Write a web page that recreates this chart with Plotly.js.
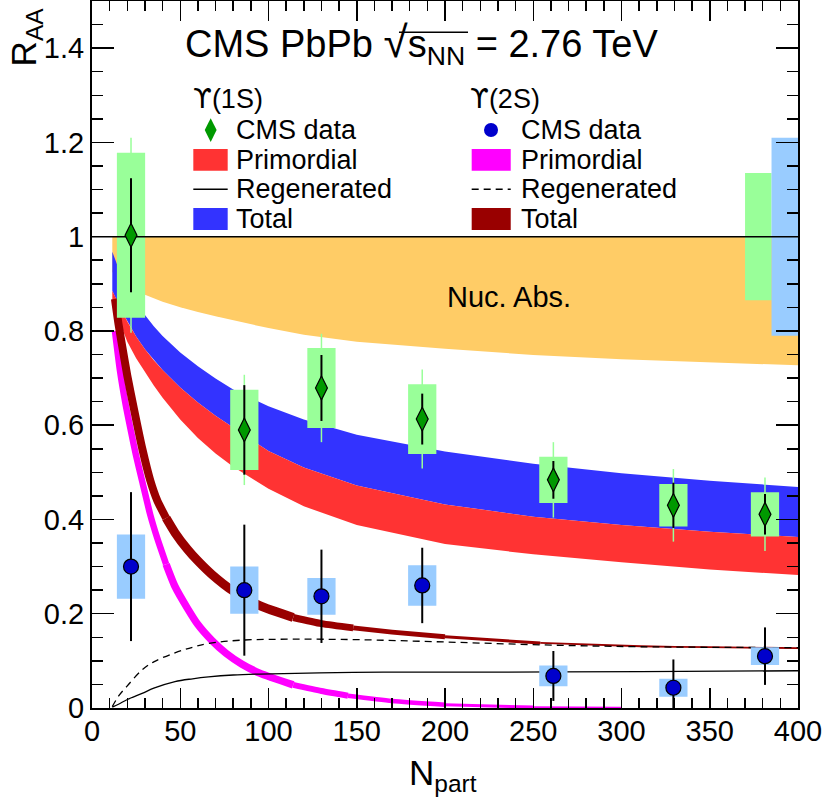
<!DOCTYPE html>
<html><head><meta charset="utf-8">
<script src="https://cdn.plot.ly/plotly-3.0.1.min.js"></script>
<style>html,body{margin:0;padding:0;background:#fff}</style>
</head><body><div id="chart" style="width:824px;height:803px"></div>
<script>
// ---------------- data ----------------
const npart  = [22.1, 86.3, 130.0, 187.1, 261.4, 329.4, 381.3];
// Upsilon(1S)
const raa1S  = [1.003, 0.590, 0.679, 0.613, 0.484, 0.430, 0.411];
const stat1S = [0.121, 0.095, 0.070, 0.054, 0.040, 0.048, 0.043];
const syst1S = [0.175, 0.085, 0.085, 0.074, 0.049, 0.045, 0.047];
const tot1S  = [0.207, 0.117, 0.115, 0.105, 0.080, 0.077, 0.078];
// Upsilon(2S)
const raa2S  = [0.300, 0.250, 0.237, 0.260, 0.068, 0.043, 0.110];
const stat2S = [0.158, 0.139, 0.099, 0.080, 0.053, 0.060, 0.061];
const syst2S = [0.068, 0.050, 0.039, 0.043, 0.022, 0.019, 0.019];
// global uncertainties (1S, 2S) at R_AA = 1
const globalX   = [377.5, 392.5];
const globalUnc = [0.135, 0.210];
const refValue  = 1;
const fullRange = [0, 400];

// model bands (x grid shared)
const bandX     = [11.5, 13, 15, 17.5, 20, 25, 30, 35, 40, 50, 60, 70, 80, 100, 120, 150, 200, 250, 300, 350, 400];
const nucLow    = [0.925, 0.920, 0.912, 0.904, 0.897, 0.886, 0.877, 0.869, 0.862, 0.850, 0.840, 0.831, 0.822, 0.806, 0.792, 0.777, 0.762, 0.749, 0.740, 0.733, 0.727];
const nucHigh   = [1, 1, 1, 1, 1, 1, 1, 1, 1, 1, 1, 1, 1, 1, 1, 1, 1, 1, 1, 1, 1];
const tot1SHigh = [0.968, 0.952, 0.933, 0.912, 0.893, 0.861, 0.834, 0.810, 0.789, 0.754, 0.725, 0.699, 0.676, 0.640, 0.612, 0.580, 0.544, 0.518, 0.498, 0.482, 0.469];
const tot1SLow  = [0.885, 0.873, 0.857, 0.838, 0.820, 0.788, 0.761, 0.738, 0.717, 0.680, 0.648, 0.620, 0.595, 0.545, 0.510, 0.472, 0.432, 0.406, 0.388, 0.374, 0.363];
const prim1SHigh= [0.885, 0.873, 0.857, 0.838, 0.820, 0.788, 0.761, 0.738, 0.717, 0.680, 0.648, 0.620, 0.595, 0.545, 0.510, 0.472, 0.432, 0.406, 0.388, 0.374, 0.363];
const prim1SLow = [0.860, 0.845, 0.825, 0.800, 0.777, 0.742, 0.712, 0.684, 0.658, 0.612, 0.573, 0.540, 0.512, 0.465, 0.428, 0.388, 0.348, 0.326, 0.309, 0.294, 0.282];
// regenerated 1S (solid)
const regen1SX = [11.5, 15, 20, 28.4, 35, 47, 57, 66, 80, 95, 148, 200, 311, 400];
const regen1SY = [0.002, 0.008, 0.018, 0.031, 0.042, 0.056, 0.062, 0.066, 0.070, 0.072, 0.0757, 0.076, 0.077, 0.079];
// regenerated 2S (dashed)
const regen2SX = [11.5, 15, 20, 28.4, 35, 47, 57, 66, 85, 114, 150, 200, 254, 311, 400];
const regen2SY = [0.003, 0.025, 0.047, 0.081, 0.098, 0.117, 0.129, 0.137, 0.144, 0.146, 0.145, 0.140, 0.134, 0.130, 0.128];
// total 2S (dark red) centre line
const tot2SX = [13, 15, 17, 20, 24, 28.5, 33, 37, 42, 47, 54, 60, 68, 80, 95, 114, 130, 148, 170, 200, 254, 311, 350, 400];
const tot2SY = [0.868, 0.815, 0.77, 0.705, 0.63, 0.55, 0.483, 0.44, 0.403, 0.372, 0.337, 0.312, 0.283, 0.248, 0.217, 0.192, 0.179, 0.170, 0.161, 0.151, 0.138, 0.131, 0.129, 0.127];
// primordial 2S (magenta) centre line
const prim2SX = [13, 15.8, 19, 22.3, 25, 28.5, 33, 37, 42, 47, 54, 60, 68, 76, 85, 95, 114, 130, 145, 170, 200, 250, 300];
const prim2SY = [0.80, 0.717, 0.645, 0.583, 0.535, 0.48, 0.41, 0.36, 0.305, 0.258, 0.212, 0.177, 0.143, 0.116, 0.093, 0.074, 0.049, 0.036, 0.026, 0.015, 0.007, 0.002, 0.0005];

// ticks
const xTickVals = [0, 50, 100, 150, 200, 250, 300, 350, 400];
const xTickText = ['0', '50', '100', '150', '200', '250', '300', '350', '400'];
const yTickVals = [0, 0.2, 0.4, 0.6, 0.8, 1, 1.2, 1.4];
const yTickText = ['0', '0.2', '0.4', '0.6', '0.8', '1', '1.2', '1.4'];

// ---------------- styles ----------------
const FONT = 'Liberation Sans, Arial, Helvetica, sans-serif';
const C = {nuc:'#ffcc66', tot1S:'#3333ff', prim1S:'#ff3333', prim2S:'#ff00ff', tot2S:'#990000',
           box1S:'#99ff99', box2S:'#99ccff', mk1S:'#009900', mk2S:'#0000cc'};
const boxHalf = 8, globalHalf = 7.5;
// taper of thick model curves: [xmax, width]
const tot2STaper  = [[42, 8], [114, 9], [148, 7], [200, 5], [254, 3], [400, 1.8]];
const prim2STaper = [[42, 6.5], [114, 7.5], [145, 6], [200, 4.5], [250, 3], [300, 1.8]];

function band(x, lo, hi) {
  return {x: x.concat(x.slice().reverse()), y: hi.concat(lo.slice().reverse())};
}
function boxes(xs, ys, half, hw) {
  const X = [], Y = [];
  xs.forEach((x, i) => {
    const lo = ys[i] - half[i], hi = ys[i] + half[i];
    X.push(x - hw, x + hw, x + hw, x - hw, x - hw, null);
    Y.push(lo, lo, hi, hi, lo, null);
  });
  return {x: X, y: Y};
}
function taperTraces(xs, ys, taper, color) {
  const out = []; let xmin = -1;
  taper.forEach(([xmax, w]) => {
    const sx = [], sy = [];
    xs.forEach((x, i) => { if (x >= xmin && x <= xmax) { sx.push(x); sy.push(ys[i]); } });
    out.push({x: sx, y: sy, type: 'scatter', mode: 'lines', line: {color, width: w, shape: 'spline', smoothing: 0.6}, hoverinfo: 'skip'});
    xmin = xmax;
  });
  return out;
}
const fillTrace = (b, color) => ({x: b.x, y: b.y, type: 'scatter', mode: 'lines', fill: 'toself', fillcolor: color, line: {width: 0, color}, hoverinfo: 'skip'});

const traces = [];
traces.push(fillTrace(band(bandX, nucLow, nucHigh), C.nuc));
traces.push(fillTrace(band(bandX, tot1SLow, tot1SHigh), C.tot1S));
traces.push(fillTrace(band(bandX, prim1SLow, prim1SHigh), C.prim1S));
taperTraces(prim2SX, prim2SY, prim2STaper, C.prim2S).forEach(t => traces.push(t));
taperTraces(tot2SX, tot2SY, tot2STaper, C.tot2S).forEach(t => traces.push(t));
traces.push({x: regen1SX, y: regen1SY, type: 'scatter', mode: 'lines', line: {color: 'black', width: 1.3, shape: 'spline'}, hoverinfo: 'skip'});
traces.push({x: regen2SX, y: regen2SY, type: 'scatter', mode: 'lines', line: {color: 'black', width: 1.3, dash: '7px,5px', shape: 'spline'}, hoverinfo: 'skip'});
// global boxes
traces.push(fillTrace(boxes([globalX[0]], [refValue], [globalUnc[0]], globalHalf), C.box1S));
traces.push(fillTrace(boxes([globalX[1]], [refValue], [globalUnc[1]], globalHalf), C.box2S));
// 1S total uncertainty (thin light line)
traces.push({x: npart, y: raa1S, type: 'scatter', mode: 'markers', marker: {size: 1, opacity: 0},
  error_y: {type: 'data', array: tot1S, visible: true, color: C.box1S, thickness: 1.5, width: 0}, hoverinfo: 'skip'});
// systematic boxes
traces.push(fillTrace(boxes(npart, raa1S, syst1S, boxHalf), C.box1S));
traces.push(fillTrace(boxes(npart, raa2S, syst2S, boxHalf), C.box2S));
// reference line
traces.push({x: fullRange, y: [refValue, refValue], type: 'scatter', mode: 'lines', line: {color: 'black', width: 1.5}, hoverinfo: 'skip'});
// data points
traces.push({x: npart, y: raa1S, type: 'scatter', mode: 'markers',
  marker: {symbol: 'diamond-tall', size: 17, color: C.mk1S, line: {color: 'black', width: 1.2}},
  error_y: {type: 'data', array: stat1S, visible: true, color: 'black', thickness: 2, width: 0}, hoverinfo: 'skip'});
traces.push({x: npart, y: raa2S, type: 'scatter', mode: 'markers',
  marker: {symbol: 'circle', size: 15, color: C.mk2S, line: {color: 'black', width: 1.2}},
  error_y: {type: 'data', array: stat2S, visible: true, color: 'black', thickness: 2, width: 0}, hoverinfo: 'skip'});
// legend marker symbols (overlay axes spanning the plot area, 0..1)
traces.push({x: [0.1681], y: [0.8175], xaxis: 'x2', yaxis: 'y2', type: 'scatter', mode: 'markers',
  marker: {symbol: 'diamond-tall', size: 17, color: C.mk1S, line: {width: 0}}, hoverinfo: 'skip'});
traces.push({x: [0.5652], y: [0.8175], xaxis: 'x2', yaxis: 'y2', type: 'scatter', mode: 'markers',
  marker: {symbol: 'circle', size: 14, color: C.mk2S, line: {width: 0}}, hoverinfo: 'skip'});

const axisCommon = {showline: true, linecolor: 'black', linewidth: 2, mirror: 'allticks', ticks: 'inside',
  tickcolor: 'black', tickwidth: 1.5, showgrid: false, zeroline: false, tickmode: 'array',
  tickfont: {family: FONT, size: 29, color: 'black'}};

const lgText = (x, y, t, size) => ({xref: 'paper', yref: 'paper', x, y, xanchor: 'left', yanchor: 'middle', text: t, showarrow: false, font: {family: FONT, size: size || 27, color: 'black'}});
const rect = (x0, x1, y0, y1, color) => ({type: 'rect', xref: 'paper', yref: 'paper', x0, x1, y0, y1, fillcolor: color, line: {width: 0}});
const hline = (x0, x1, y, dash, w) => ({type: 'line', xref: 'paper', yref: 'paper', x0, x1, y0: y, y1: y, line: {color: 'black', width: w || 1.3, dash: dash || 'solid'}});
const UPS = '<span style="font-family:DejaVu Sans">ϒ</span>';

const layout = {
  width: 824, height: 803, margin: {l: 92, r: 26, t: 1, b: 95},
  paper_bgcolor: 'white', plot_bgcolor: 'white', showlegend: false,
  font: {family: FONT, color: 'black'},
  xaxis: Object.assign({}, axisCommon, {range: [0, 400], tickvals: xTickVals, ticktext: xTickText, ticklen: 20, ticklabelstandoff: -4,
    minor: {dtick: 10, tick0: 0, ticklen: 10, tickwidth: 1.5, tickcolor: 'black', ticks: 'inside', showgrid: false}}),
  yaxis: Object.assign({}, axisCommon, {range: [0, 1.5], tickvals: yTickVals, ticktext: yTickText, ticklen: 22,
    minor: {dtick: 0.05, tick0: 0, ticklen: 11, tickwidth: 1.5, tickcolor: 'black', ticks: 'inside', showgrid: false}}),
  xaxis2: {overlaying: 'x', range: [0, 1], visible: false},
  yaxis2: {overlaying: 'y', range: [0, 1], visible: false},
  annotations: [
    {xref: 'paper', yref: 'paper', x: 0.1289, y: 0.939, xanchor: 'left', yanchor: 'middle', showarrow: false,
     text: 'CMS PbPb <span style="font-size:44px">√</span>s<sub>NN</sub> = 2.76 TeV', font: {family: FONT, size: 38, color: 'black'}},
    lgText(0.1402, 0.8628, UPS + '(1S)'),
    lgText(0.5326, 0.8628, UPS + '(2S)'),
    lgText(0.2011, 0.8175, 'CMS data'), lgText(0.2011, 0.775, 'Primordial'),
    lgText(0.2011, 0.7337, 'Regenerated'), lgText(0.2011, 0.6917, 'Total'),
    lgText(0.6052, 0.8175, 'CMS data'), lgText(0.6052, 0.775, 'Primordial'),
    lgText(0.6052, 0.7337, 'Regenerated'), lgText(0.6052, 0.6917, 'Total'),
    {xref: 'x', yref: 'y', x: 200, y: 0.872, xanchor: 'left', yanchor: 'middle', showarrow: false,
     text: 'Nuc. Abs.', font: {family: FONT, size: 29, color: 'black'}},
    {xref: 'paper', yref: 'paper', x: -0.094, y: 0.994, xanchor: 'center', yanchor: 'top', showarrow: false, textangle: -90,
     text: 'R<sub>AA</sub>', font: {family: FONT, size: 35, color: 'black'}},
    {xref: 'paper', yref: 'paper', x: 0.497, y: -0.095, xanchor: 'center', yanchor: 'middle', showarrow: false,
     text: 'N<sub>part</sub>', font: {family: FONT, size: 35, color: 'black'}}
  ],
  shapes: [
    rect(0.1435, 0.1922, 0.760, 0.7906, C.prim1S),
    hline(0.1435, 0.1922, 0.7337),
    rect(0.1435, 0.1922, 0.6761, 0.7072, C.tot1S),
    rect(0.5378, 0.5931, 0.760, 0.7906, C.prim2S),
    hline(0.5378, 0.5931, 0.7337, '7px,5px'),
    rect(0.5378, 0.5931, 0.6761, 0.7072, C.tot2S),
    // vinculum of the square root in the title
    hline(0.4348, 0.5326, 0.9557, 'solid', 1.5)
  ]
};

Plotly.newPlot('chart', traces, layout, {displayModeBar: false, staticPlot: true});
</script></body></html>
